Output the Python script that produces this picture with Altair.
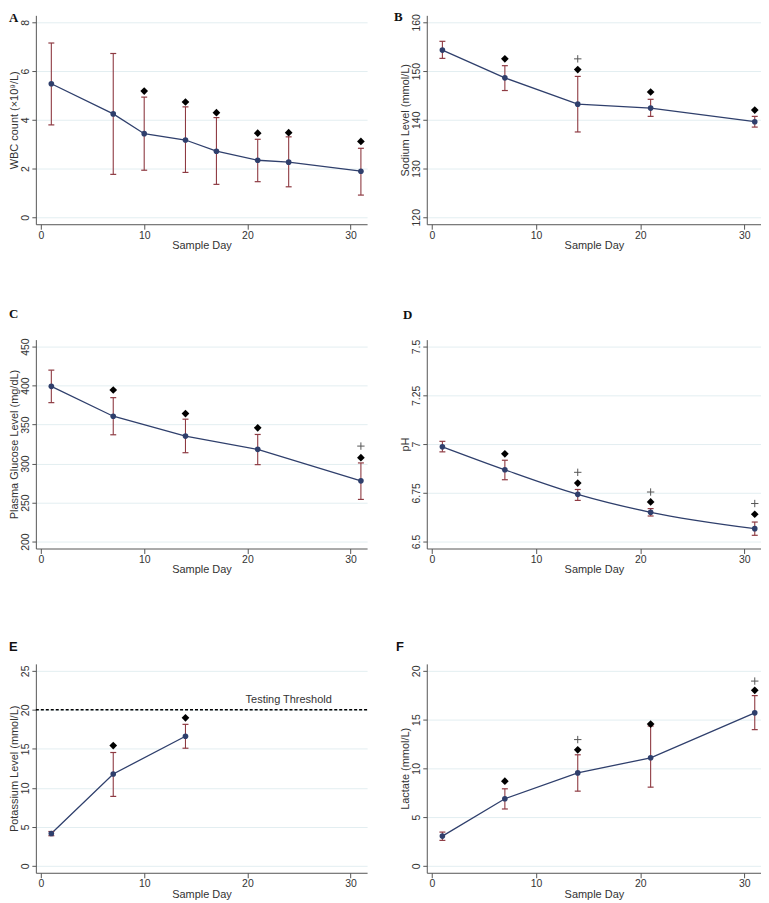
import altair as alt
import pandas as pd

# ---------------- data ----------------
A_day = [1, 7, 10, 14, 17, 21, 24, 31]
A_mean = [5.48, 4.24, 3.43, 3.17, 2.71, 2.34, 2.26, 1.89]
A_lo = [3.79, 1.76, 1.93, 1.84, 1.35, 1.46, 1.25, 0.91]
A_hi = [7.15, 6.72, 4.93, 4.53, 4.09, 3.20, 3.30, 2.83]
A_dia_day = [10, 14, 17, 21, 24, 31]
A_dia = [5.18, 4.73, 4.29, 3.45, 3.47, 3.11]
A_plus_day = []
A_plus = []

B_day = [1, 7, 14, 21, 31]
B_mean = [154.3, 148.6, 143.2, 142.4, 139.6]
B_lo = [152.6, 146.0, 137.5, 140.7, 138.5]
B_hi = [156.1, 151.1, 148.9, 144.2, 140.7]
B_dia_day = [7, 14, 21, 31]
B_dia = [152.5, 150.3, 145.7, 142.0]
B_plus_day = [14]
B_plus = [152.5]

C_day = [1, 7, 14, 21, 31]
C_mean = [399.0, 360.7, 335.2, 318.2, 277.8]
C_lo = [378.1, 336.9, 313.9, 298.6, 254.0]
C_hi = [419.8, 384.5, 356.9, 337.3, 300.8]
C_dia_day = [7, 14, 21, 31]
C_dia = [394.3, 364.1, 345.8, 307.6]
C_plus_day = [31]
C_plus = [322.4]

D_day = [1, 7, 14, 21, 31]
D_mean = [6.986, 6.868, 6.742, 6.650, 6.566]
D_lo = [6.960, 6.817, 6.711, 6.631, 6.532]
D_hi = [7.014, 6.917, 6.767, 6.669, 6.600]
D_dia_day = [7, 14, 21, 31]
D_dia = [6.95, 6.80, 6.703, 6.64]
D_plus_day = [14, 21, 31]
D_plus = [6.855, 6.754, 6.695]

E_day = [1, 7, 14]
E_mean = [4.15, 11.78, 16.61]
E_lo = [3.86, 8.90, 15.08]
E_hi = [4.40, 14.53, 18.14]
E_dia_day = [7, 14]
E_dia = [15.42, 18.98]
E_plus_day = []
E_plus = []
E_threshold = [20]
E_thr_label = ["Testing Threshold"]
E_thr_label_x = [24]
E_thr_label_y = [21.3]

F_day = [1, 7, 14, 21, 31]
F_mean = [3.05, 6.88, 9.53, 11.08, 15.69]
F_lo = [2.61, 5.83, 7.66, 8.07, 13.97]
F_hi = [3.46, 7.90, 11.39, 14.34, 17.46]
F_dia_day = [7, 14, 21, 31]
F_dia = [8.68, 11.90, 14.54, 18.00]
F_plus_day = [14, 31]
F_plus = [12.95, 18.95]

X_TICKS = [0, 10, 20, 30]
A_TICKS = [0, 2, 4, 6, 8]
B_TICKS = [120, 130, 140, 150, 160]
C_TICKS = [200, 250, 300, 350, 400, 450]
D_TICKS = [6.5, 6.75, 7, 7.25, 7.5]
E_TICKS = [0, 5, 10, 15, 20, 25]
F_TICKS = [0, 5, 10, 15, 20]

# ---------------- style ----------------
NAVY = "#2f3f6c"
MAROON = "#8e3a42"
GRID = "#e3eef1"
AXIS = "#555555"
TXT = "#333333"
FONT = "Liberation Sans"
SERIF = "Liberation Serif"
H = 210
W1 = 333
W2 = 336


def pad_domain(ticks, height):
    lo, hi = min(ticks), max(ticks)
    p = (hi - lo) * 7.0 / (height - 14)
    return [lo - p, hi + p]


def panel(label, label_font, ytitle, day, mean, lo, hi, dday, dval, pday, pval,
          yticks, width, title_offset, title_dx, interp="linear", extra=None):
    df = pd.DataFrame({"day": day, "mean": mean, "lo": lo, "hi": hi})
    xs = alt.Scale(domain=[-0.5, 31.6], nice=False, zero=False)
    ys = alt.Scale(domain=pad_domain(yticks, H), nice=False, zero=False)
    xaxis = alt.Axis(values=X_TICKS, title="Sample Day", grid=False, tickSize=5,
                     labelPadding=1, titlePadding=-1, domainColor=AXIS, tickColor=AXIS,
                     labelColor=TXT, titleColor=TXT, labelFontSize=10.5,
                     titleFontSize=11, titleFontWeight="normal", labelFont=FONT,
                     titleFont=FONT)
    yaxis = alt.Axis(values=yticks, title=ytitle, grid=True, gridColor=GRID,
                     gridWidth=1, tickSize=4, labelAngle=270, format=".3~f",
                     labelPadding=1, titlePadding=1, domainColor=AXIS, tickColor=AXIS,
                     labelColor=TXT, titleColor=TXT, labelFontSize=10.5,
                     titleFontSize=11, titleFontWeight="normal", labelFont=FONT,
                     titleFont=FONT)
    X = alt.X("day:Q", scale=xs, axis=xaxis)
    base = alt.Chart(df)
    line = base.mark_line(color=NAVY, strokeWidth=1.3, interpolate=interp).encode(
        x=X, y=alt.Y("mean:Q", scale=ys, axis=yaxis))
    bar = base.mark_rule(color=MAROON, strokeWidth=1.1).encode(
        x="day:Q", y="lo:Q", y2="hi:Q")
    cap_lo = base.mark_tick(orient="horizontal", size=6, thickness=1.2,
                            color=MAROON, opacity=1).encode(x="day:Q", y="lo:Q")
    cap_hi = base.mark_tick(orient="horizontal", size=6, thickness=1.2,
                            color=MAROON, opacity=1).encode(x="day:Q", y="hi:Q")
    pts = base.mark_circle(size=32, color=NAVY, opacity=1).encode(x="day:Q", y="mean:Q")
    layers = [line, bar, cap_lo, cap_hi, pts]
    if dday:
        ddf = pd.DataFrame({"day": dday, "v": dval})
        layers.append(alt.Chart(ddf).mark_point(
            shape="diamond", filled=True, size=60, color="black", opacity=1
        ).encode(x="day:Q", y="v:Q"))
    if pday:
        pdf = pd.DataFrame({"day": pday, "v": pval})
        layers.append(alt.Chart(pdf).mark_point(
            shape="M-1,0L1,0M0,-1L0,1", filled=False, size=55, color="#555555",
            strokeWidth=1, opacity=1
        ).encode(x="day:Q", y="v:Q"))
    if extra:
        layers.extend(extra)
    return alt.layer(*layers).properties(
        width=width, height=H,
        title=alt.TitleParams(label, anchor="start", frame="group", dx=title_dx,
                              font=label_font, fontSize=13, fontWeight="bold",
                              color="#111111", offset=title_offset),
    )


thr = alt.Chart(pd.DataFrame({"t": E_threshold})).mark_rule(
    color="black", strokeDash=[3, 2], strokeWidth=1.5).encode(y="t:Q")
thr_txt = alt.Chart(pd.DataFrame({"x": E_thr_label_x, "y": E_thr_label_y,
                                  "s": E_thr_label})).mark_text(
    font=FONT, fontSize=11, color=TXT, baseline="middle", align="center"
).encode(x="x:Q", y="y:Q", text="s:N")

pA = panel("A", SERIF, "WBC count (×10⁹/L)", A_day, A_mean, A_lo, A_hi,
           A_dia_day, A_dia, A_plus_day, A_plus, A_TICKS, W1, -10, -27)
pB = panel("B", SERIF, "Sodium Level (mmol/L)", B_day, B_mean, B_lo, B_hi,
           B_dia_day, B_dia, B_plus_day, B_plus, B_TICKS, W2, -10, -33)
pC = panel("C", SERIF, "Plasma Glucose Level (mg/dL)", C_day, C_mean, C_lo, C_hi,
           C_dia_day, C_dia, C_plus_day, C_plus, C_TICKS, W1, 17, -27)
pD = panel("D", SERIF, "pH", D_day, D_mean, D_lo, D_hi,
           D_dia_day, D_dia, D_plus_day, D_plus, D_TICKS, W2, 17, -24,
           interp="monotone")
pE = panel("E", FONT, "Potassium Level (mmol/L)", E_day, E_mean, E_lo, E_hi,
           E_dia_day, E_dia, E_plus_day, E_plus, E_TICKS, W1, 10, -27,
           extra=[thr, thr_txt])
pF = panel("F", FONT, "Lactate (mmol/L)", F_day, F_mean, F_lo, F_hi,
           F_dia_day, F_dia, F_plus_day, F_plus, F_TICKS, W2, 10, -31)

chart = alt.concat(pA, pB, pC, pD, pE, pF, columns=2, bounds="flush",
                   spacing={"row": 116, "column": 60}).properties(
    padding=0, background="white"
).configure_view(stroke=None)

chart.save("out.html", embed_options={"renderer": "svg", "actions": False})
